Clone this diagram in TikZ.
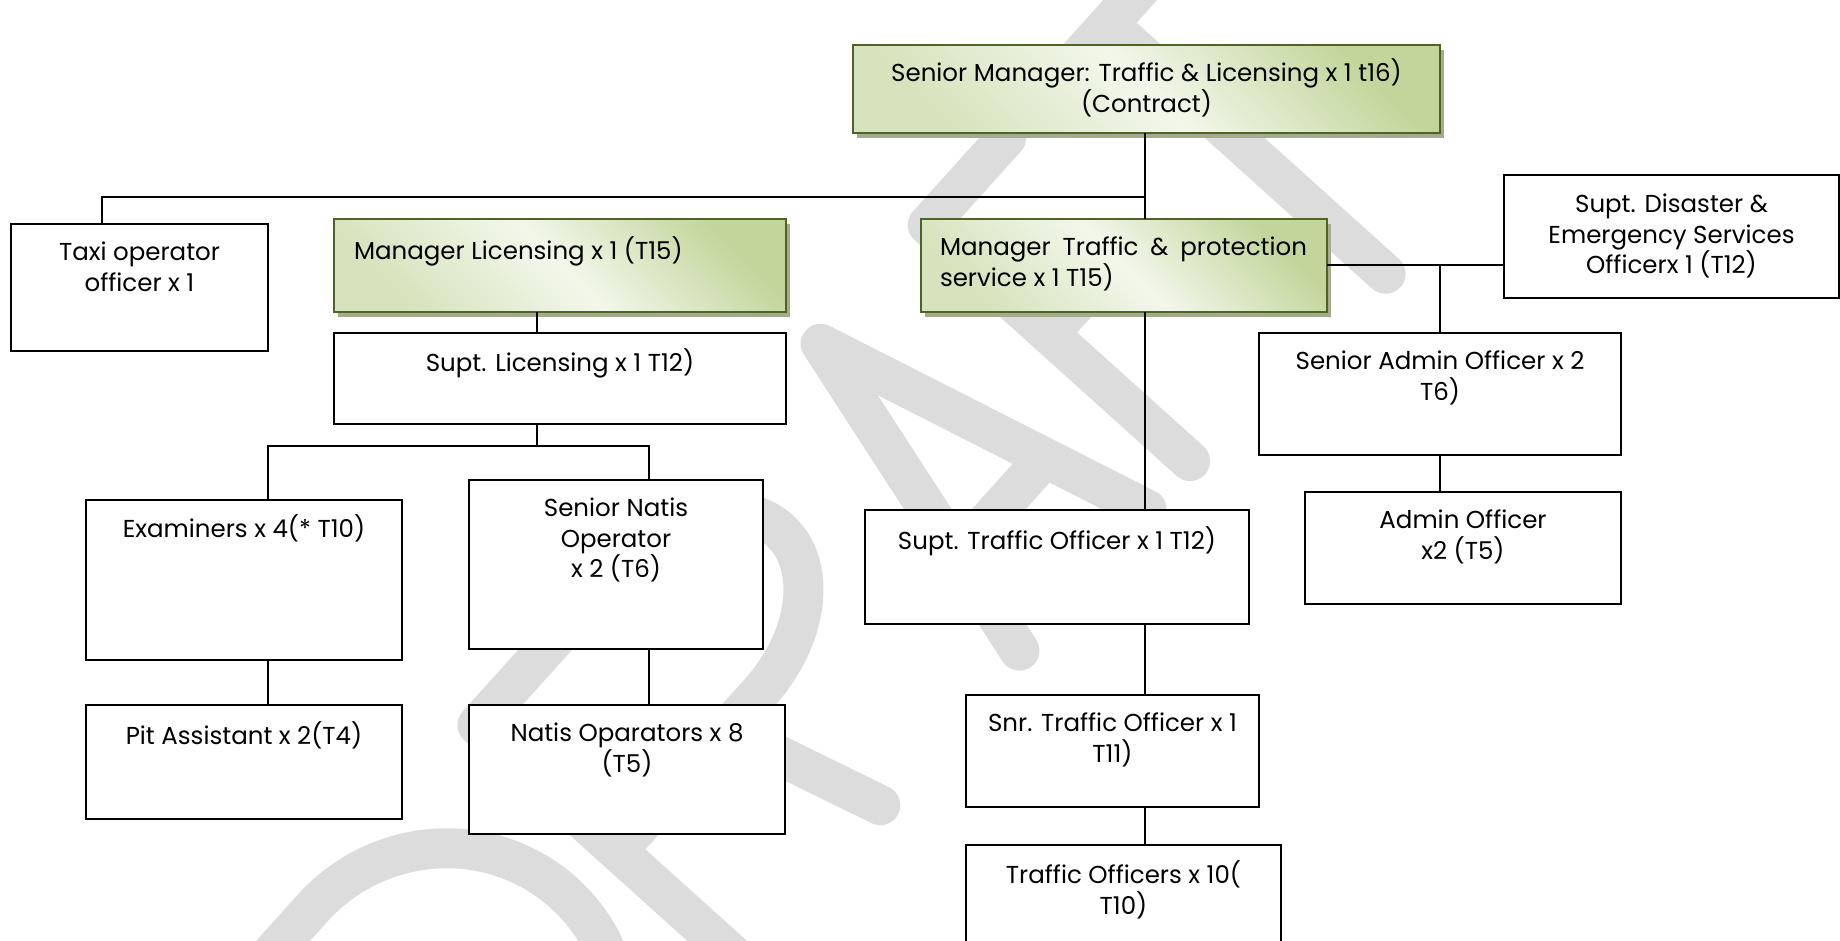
\documentclass[tikz,border=0pt]{standalone}
\usepackage{fontspec}
\setmainfont{Poppins}
\usetikzlibrary{shadows}

\definecolor{olivedark}{RGB}{79,98,40}
\definecolor{greenA}{RGB}{194,214,155}
\definecolor{greenB}{RGB}{243,247,235}
\definecolor{greenC}{RGB}{214,227,188}
\definecolor{shadowgreen}{RGB}{163,172,140}
\definecolor{wmark}{RGB}{220,220,220}

\newcommand\lblfont{\fontsize{24.5}{30.5}\selectfont}

\begin{document}
\begin{tikzpicture}[x=1pt,y=-1pt,
  every node/.style={inner sep=0pt, outer sep=0pt},
  plainbox/.style={draw=black, line width=2.2pt, fill=white, anchor=north west},
  greenbox/.style={draw=olivedark, line width=2.6pt, anchor=north west,
    left color=greenC, right color=greenA, middle color=greenB, shading angle=135,
    drop shadow={shadow xshift=4pt, shadow yshift=-5pt, fill=shadowgreen, opacity=1}},
  lbl/.style={font=\lblfont, align=center, anchor=north, text=black,
    execute at begin node={\rule{0pt}{18pt}}},
  lbll/.style={lbl, align=left, anchor=north west},
  link/.style={draw=black, line width=2pt},
  wmstroke/.style={draw=wmark, line width=40pt, line cap=round, line join=round}]

\useasboundingbox (0,0) rectangle (1840,941);
\clip (0,0) rectangle (1840,941);
\fill[white] (0,0) rectangle (1840,941);

% watermark letters D R A F T, drawn as round-capped strokes on a tilted baseline
\begin{scope}[shift={(1083,580)}, rotate=48, x=1pt, y=1pt]
  \draw[wmstroke] (-880,0) -- (-880,353) -- (-760,353)
    arc[start angle=90, end angle=-90, x radius=180, y radius=176.5] -- cycle;
  \draw[wmstroke] (-513,0) -- (-513,353) -- (-300,353)
    arc[start angle=90, end angle=-90, x radius=134, y radius=94] -- (-513,165);
  \draw[wmstroke] (-350,165) -- (-303,0);
  \draw[wmstroke] (-95,0) -- (0,353) -- (95,0);
  \draw[wmstroke] (-65,110) -- (65,110);
  \draw[wmstroke] (160,0) -- (160,353) -- (277,353);
  \draw[wmstroke] (160,190) -- (260,190);
  \draw[wmstroke] (340,353) -- (520,353);
  \draw[wmstroke] (430,353) -- (430,-20);
\end{scope}

% boxes
\node[greenbox, minimum width=587pt, minimum height=88pt] (top) at (853,45) {};
\node[plainbox, minimum width=257pt, minimum height=127pt] (taxi) at (11,224) {};
\node[greenbox, minimum width=452pt, minimum height=93pt] (mgrL) at (334,219) {};
\node[greenbox, minimum width=406pt, minimum height=93pt] (mgrT) at (921,219) {};
\node[plainbox, minimum width=335pt, minimum height=123pt] (dis) at (1504,175) {};
\node[plainbox, minimum width=452pt, minimum height=91pt] (suptL) at (334,333) {};
\node[plainbox, minimum width=362pt, minimum height=122pt] (senA) at (1259,333) {};
\node[plainbox, minimum width=316pt, minimum height=160pt] (exam) at (86,500) {};
\node[plainbox, minimum width=294pt, minimum height=169pt] (natis) at (469,480) {};
\node[plainbox, minimum width=384pt, minimum height=114pt] (suptT) at (865,510) {};
\node[plainbox, minimum width=316pt, minimum height=112pt] (adm) at (1305,492) {};
\node[plainbox, minimum width=316pt, minimum height=114pt] (pit) at (86,705) {};
\node[plainbox, minimum width=316pt, minimum height=129pt] (natOp) at (469,705) {};
\node[plainbox, minimum width=293pt, minimum height=112pt] (snrT) at (966,695) {};
\node[plainbox, minimum width=315pt, minimum height=130pt] (trafO) at (966,845) {};

% labels
\node[lbl] (top-t) at ([yshift=-14pt]top.north) {Senior Manager: Traffic \& Licensing x 1 t16)\\(Contract)};
\node[lbl] (taxi-t) at ([yshift=-18pt]taxi.north) {Taxi operator\\officer x 1};
\node[lbll] (mgrL-t) at ([xshift=20pt,yshift=-18pt]mgrL.north west) {Manager Licensing x 1 (T15)};
\node[lbll] (mgrT-t) at ([xshift=19pt,yshift=-18pt]mgrT.north west)
  {\hbox to 367pt{Manager\hfil Traffic\hfil \&\hfil protection}\\service x 1 T15)};
\node[lbl] (dis-t) at ([yshift=-19pt]dis.north) {Supt. Disaster \&\\Emergency Services\\Officerx 1 (T12)};
\node[lbl] (suptL-t) at ([yshift=-16pt]suptL.north) {Supt. Licensing x 1 T12)};
\node[lbl] (senA-t) at ([yshift=-18pt]senA.north) {Senior Admin Officer x 2\\T6)};
\node[lbl] (exam-t) at ([yshift=-15pt]exam.north) {Examiners x 4(* T10)};
\node[lbl] (natis-t) at ([yshift=-18pt]natis.north) {Senior Natis\\Operator\\x 2 (T6)};
\node[lbl] (suptT-t) at ([yshift=-17pt]suptT.north) {Supt. Traffic Officer x 1 T12)};
\node[lbl] (adm-t) at ([yshift=-18pt]adm.north) {Admin Officer\\x2 (T5)};
\node[lbl] (pit-t) at ([yshift=-17pt]pit.north) {Pit Assistant x 2(T4)};
\node[lbl] (natOp-t) at ([yshift=-18pt]natOp.north) {Natis Oparators x 8\\(T5)};
\node[lbl] (snrT-t) at ([yshift=-18pt]snrT.north) {Snr. Traffic Officer x 1\\T11)};
\node[lbl] (trafO-t) at ([yshift=-16pt]trafO.north) {Traffic Officers x 10(\\T10)};

% connector taps and bus points
\coordinate (spine) at ([xshift=-1.5pt]top.south);
\coordinate (bus) at (spine |- 0,197);
\coordinate (taxitap) at ([xshift=91pt]taxi.north west);
\coordinate (ltap) at ([xshift=203pt]mgrL.south west);
\coordinate (lbus) at (ltap |- 0,446);
\coordinate (etap) at ([xshift=182pt]exam.north west);
\coordinate (ntap) at ([xshift=180pt]natis.north west);

% connectors
\draw[link] (spine) -- (spine |- mgrT.north);
\draw[link] (spine |- mgrT.south) -- (spine |- suptT.north);
\draw[link] (spine |- suptT.south) -- (spine |- snrT.north);
\draw[link] (spine |- snrT.south) -- (spine |- trafO.north);
\draw[link] (taxitap) |- (bus);
\draw[link] (mgrT.east) -- (mgrT.east -| dis.west);
\draw[link] (senA.north) -- (senA.north |- mgrT.east);
\draw[link] (senA.south) -- (senA.south |- adm.north);
\draw[link] (ltap) -- (ltap |- suptL.north);
\draw[link] (lbus |- suptL.south) -- (lbus);
\draw[link] (etap) |- (lbus) -| (ntap);
\draw[link] (etap |- exam.south) -- (etap |- pit.north);
\draw[link] (ntap |- natis.south) -- (ntap |- natOp.north);
\end{tikzpicture}
\end{document}
